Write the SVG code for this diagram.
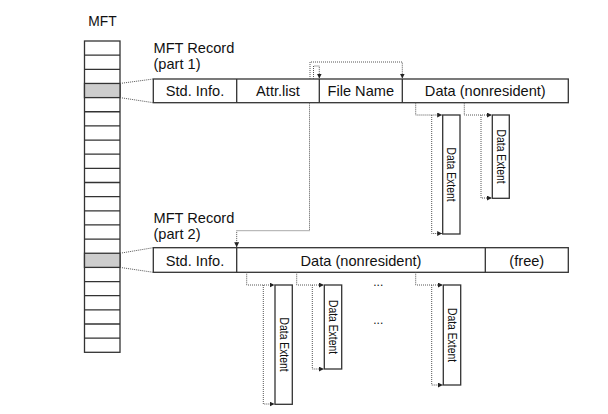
<svg xmlns="http://www.w3.org/2000/svg" width="608" height="414" viewBox="0 0 608 414">
<style>
.box{fill:#fff;stroke:#333;stroke-width:1.3}
.ln{stroke:#333;stroke-width:1.3;fill:none}
.sh{fill:#cdcdcd;stroke:#333;stroke-width:1.3}
.dot{fill:none;stroke:#555;stroke-width:1;stroke-dasharray:1 1}
.dota{fill:none;stroke:#555;stroke-width:1;stroke-dasharray:1 1;marker-end:url(#ah)}
.t{font-family:"Liberation Sans",Arial,sans-serif;font-size:14.6px;fill:#111}
.tc{text-anchor:middle}
.ex{font-family:"Liberation Sans",Arial,sans-serif;font-size:12px;fill:#111;text-anchor:middle;dominant-baseline:central}
</style>
<defs>
<marker id="ah" viewBox="0 0 6 6" refX="6" refY="3" markerWidth="5" markerHeight="5" markerUnits="userSpaceOnUse" orient="auto">
<path d="M0,0 L6,3 L0,6 z" fill="#222"/>
</marker>
</defs>
<rect width="608" height="414" fill="#fff"/>

<g id="mft">
<text class="t tc" x="102.5" y="25.5" style="font-size:13.8px">MFT</text>
<rect class="box" x="84.5" y="41" width="35.5" height="311.3"/>
<rect class="sh" x="84.5" y="83.45" width="35.5" height="14.15"/>
<rect class="sh" x="84.5" y="253.25" width="35.5" height="14.15"/>
<path class="ln" d="M84.5,55.15H120M84.5,69.3H120M84.5,111.75H120M84.5,125.9H120M84.5,140.05H120M84.5,154.2H120M84.5,168.35H120M84.5,182.5H120M84.5,196.65H120M84.5,210.8H120M84.5,224.95H120M84.5,239.1H120M84.5,281.55H120M84.5,295.7H120M84.5,309.85H120M84.5,324H120M84.5,338.15H120"/>
</g>

<g id="record1">
<text class="t" x="153.5" y="52.7">MFT Record</text>
<text class="t" x="153.5" y="68.7">(part 1)</text>
<rect class="box" x="153.3" y="79" width="415" height="23.7"/>
<path class="ln" d="M236.7,79V102.7M319.3,79V102.7M402.3,79V102.7"/>
<text class="t tc" x="195" y="96.3">Std. Info.</text>
<text class="t tc" x="278" y="96.3">Attr.list</text>
<text class="t tc" x="360.8" y="96.3">File Name</text>
<text class="t tc" x="485.3" y="96.3">Data (nonresident)</text>
</g>

<g id="record2">
<text class="t" x="153.5" y="222.7">MFT Record</text>
<text class="t" x="153.5" y="238.7">(part 2)</text>
<rect class="box" x="153.3" y="247.7" width="415" height="24.6"/>
<path class="ln" d="M236.7,247.7V272.3M485.3,247.7V272.3"/>
<text class="t tc" x="195" y="265.5">Std. Info.</text>
<text class="t tc" x="361" y="265.5">Data (nonresident)</text>
<text class="t tc" x="526.8" y="265.5">(free)</text>
</g>

<g id="extent1a">
<rect class="box" x="442.7" y="115" width="17.3" height="119"/>
<text class="ex" transform="translate(451.3,174.5) rotate(90)" textLength="54" lengthAdjust="spacingAndGlyphs">Data Extent</text>
</g>
<g id="extent1b">
<rect class="box" x="492.3" y="115" width="17" height="83.3"/>
<text class="ex" transform="translate(500.8,156.6) rotate(90)" textLength="54" lengthAdjust="spacingAndGlyphs">Data Extent</text>
</g>
<g id="extent2a">
<rect class="box" x="275" y="285" width="17.3" height="119.3"/>
<text class="ex" transform="translate(283.6,344.6) rotate(90)" textLength="54" lengthAdjust="spacingAndGlyphs">Data Extent</text>
</g>
<g id="extent2b">
<rect class="box" x="324.3" y="285" width="17.4" height="84"/>
<text class="ex" transform="translate(333,327) rotate(90)" textLength="54" lengthAdjust="spacingAndGlyphs">Data Extent</text>
</g>
<g id="extent2c">
<rect class="box" x="443.3" y="285" width="17.4" height="100"/>
<text class="ex" transform="translate(452,335) rotate(90)" textLength="54" lengthAdjust="spacingAndGlyphs">Data Extent</text>
</g>
<g id="ellipsis">
<text class="t tc" x="378.3" y="286" style="font-size:12px">...</text>
<text class="t tc" x="378.3" y="324" style="font-size:12px">...</text>
</g>

<g id="connectors">
<path class="dot" d="M120,83.45L153.3,79M120,97.6L153.3,102.7"/>
<path class="dot" d="M120,253.25L153.3,247.7M120,267.4L153.3,272.3"/>
<path class="dota" d="M310,79V62H402.3V78.5"/>
<path class="dota" d="M313.5,79V66H319.3V78.5"/>
<path class="dota" d="M309.5,102.7V230.7H236.7V247.2"/>
<path class="dota" d="M415.7,102.7V115H442.2"/>
<path class="dota" d="M431.7,115V233.5H442.2"/>
<path class="dota" d="M464.3,102.7V115H491.8"/>
<path class="dota" d="M481,115V198H491.8"/>
<path class="dota" d="M246.7,272.3V285H274.5"/>
<path class="dota" d="M263.3,285V404H274.5"/>
<path class="dota" d="M296.7,272.3V285H323.8"/>
<path class="dota" d="M312.3,285V369H323.8"/>
<path class="dota" d="M415.7,272.3V285H442.8"/>
<path class="dota" d="M431.7,285V385H442.8"/>
</g>
</svg>
